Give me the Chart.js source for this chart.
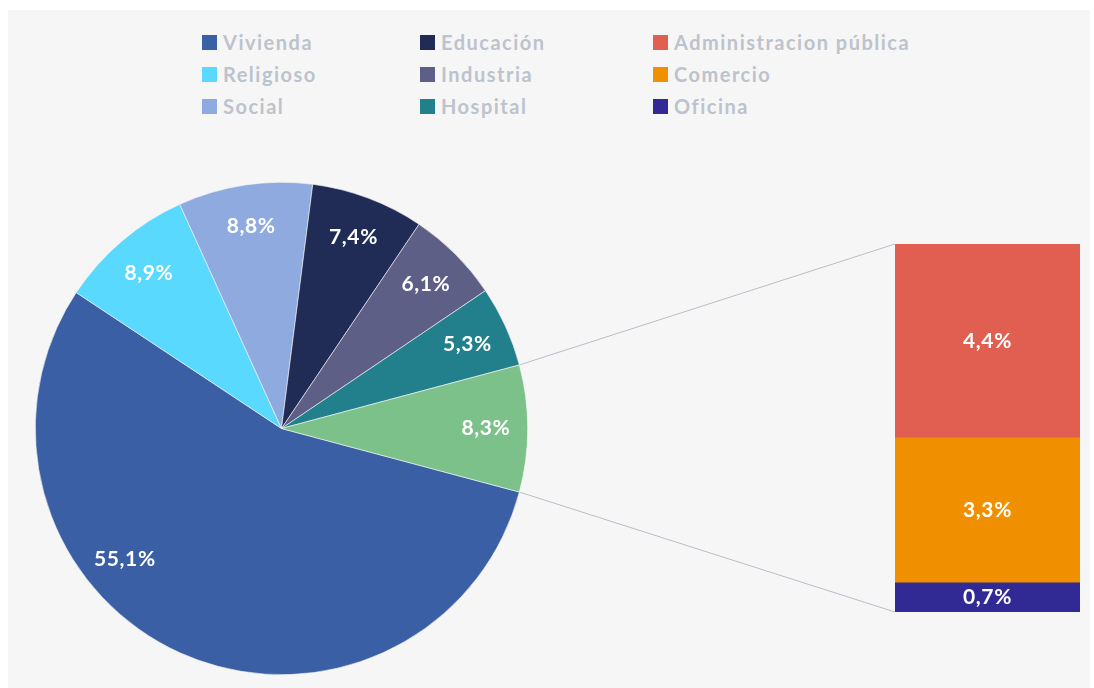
<!DOCTYPE html>
<html>
<head>
<meta charset="utf-8">
<script src="https://cdn.jsdelivr.net/npm/chart.js@4.4.1/dist/chart.umd.min.js"></script>
<style>
  body { margin: 0; background: #fff; font-family: Lato, "Open Sans", sans-serif; }
  #frame { position: absolute; left: 8px; top: 10px; width: 1082px; height: 678px; background: #f6f6f6; }
  #legend { position: absolute; left: 202px; top: 26px; display: grid;
            grid-template-columns: 218px 233px auto; grid-auto-rows: 32px; }
  .item { display: flex; align-items: center; font-size: 20px; font-weight: 700; color: #bcc3cd;
          white-space: nowrap; letter-spacing: 1.5px; }
  .box { width: 15px; height: 15px; margin-right: 6px; flex: none; }
  canvas { position: absolute; }
</style>
</head>
<body>
<div id="frame"></div>
<div id="legend"></div>
<canvas id="links" width="1094" height="688" style="left:0;top:0;width:1094px;height:688px"></canvas>
<div style="position:absolute;left:35px;top:182px;width:493px;height:493px"><canvas id="pieChart"></canvas></div>
<div style="position:absolute;left:895px;top:244px;width:185px;height:368px"><canvas id="barChart"></canvas></div>

<script>
  // pie part
  const pieLabels = ["Vivienda", "Religioso", "Social", "Educación", "Industria", "Hospital", "Otros"];
  const pieValues = [55.1, 8.9, 8.8, 7.4, 6.1, 5.3, 8.3];
  const pieColors = ["#3a5fa5", "#58d9fd", "#8eaadf", "#202c55", "#5d5f87", "#21808c", "#7cc08a"];
  // where along each slice the label sits (0..1)
  const pieLabelFrac = [0.63, 0.5, 0.5, 0.5, 0.5, 0.5, 0.5];

  // bar part (top to bottom)
  const barLabels = ["Administracion pública", "Comercio", "Oficina"];
  const barValues = [4.39, 3.29, 0.66];
  const barColors = ["#e05f50", "#f09000", "#312a95"];

  const legendOrder = [
    "Vivienda", "Educación", "Administracion pública",
    "Religioso", "Industria", "Comercio",
    "Social", "Hospital", "Oficina"
  ];

  const fmt = v => v.toFixed(1).replace(".", ",") + "%";
  const labelFont = "bold 21px Lato, 'Open Sans', sans-serif";

  // legend
  const legendEl = document.getElementById("legend");
  legendOrder.forEach(name => {
    let color = pieColors[pieLabels.indexOf(name)];
    if (pieLabels.indexOf(name) < 0) color = barColors[barLabels.indexOf(name)];
    legendEl.innerHTML += `<div class="item"><span class="box" style="background:${color}"></span>${name}</div>`;
  });

  const pieTotal = pieValues.reduce((s, v) => s + v, 0);
  const otherFrac = pieValues[pieValues.length - 1] / pieTotal;
  // centre the last slice on 3 o'clock
  const rotation = 90 + otherFrac * 180;

  function drawText(ctx, text, x, y) {
    ctx.save();
    ctx.font = labelFont;
    ctx.letterSpacing = "0.6px";
    ctx.fillStyle = "#fff";
    ctx.textAlign = "center";
    ctx.textBaseline = "middle";
    ctx.fillText(text, x, y);
    ctx.restore();
  }

  const pieLabelPlugin = {
    id: "pieLabels",
    afterDatasetsDraw(chart) {
      const arcs = chart.getDatasetMeta(0).data;
      arcs.forEach((arc, i) => {
        const a = arc.startAngle + (arc.endAngle - arc.startAngle) * pieLabelFrac[i];
        const r = arc.outerRadius * 0.83;
        drawText(chart.ctx, fmt(pieValues[i]), arc.x + r * Math.cos(a), arc.y + r * Math.sin(a));
      });
    }
  };

  const barLabelPlugin = {
    id: "barLabels",
    afterDatasetsDraw(chart) {
      chart.data.datasets.forEach((ds, i) => {
        const bar = chart.getDatasetMeta(i).data[0];
        drawText(chart.ctx, fmt(ds.data[0]), bar.x, (bar.y + bar.base) / 2);
      });
    }
  };

  const pieChart = new Chart(document.getElementById("pieChart"), {
    type: "pie",
    data: {
      labels: pieLabels,
      datasets: [{
        data: pieValues,
        backgroundColor: pieColors,
        borderColor: "#f6f6f6",
        borderWidth: 0.6
      }]
    },
    options: {
      responsive: true,
      maintainAspectRatio: false,
      animation: false,
      rotation: rotation,
      layout: { padding: 0 },
      plugins: { legend: { display: false }, tooltip: { enabled: false } }
    },
    plugins: [pieLabelPlugin]
  });

  // stacked from the bottom, so reverse
  const barSets = barValues.map((v, i) => ({
    label: barLabels[i],
    data: [v],
    backgroundColor: barColors[i],
    borderWidth: 0,
    barPercentage: 1,
    categoryPercentage: 1
  })).reverse();

  const barChart = new Chart(document.getElementById("barChart"), {
    type: "bar",
    data: { labels: ["Otros"], datasets: barSets },
    options: {
      responsive: true,
      maintainAspectRatio: false,
      animation: false,
      layout: { padding: 0 },
      scales: {
        x: { stacked: true, display: false },
        y: { stacked: true, display: false, min: 0, max: barValues.reduce((s, v) => s + v, 0) }
      },
      plugins: { legend: { display: false }, tooltip: { enabled: false } }
    },
    plugins: [barLabelPlugin]
  });

  // connector lines between the "Otros" slice and the bar
  function drawLinks() {
    const ctx = document.getElementById("links").getContext("2d");
    const pieBox = pieChart.canvas.getBoundingClientRect();
    const barBox = barChart.canvas.getBoundingClientRect();
    const arcs = pieChart.getDatasetMeta(0).data;
    const arc = arcs[arcs.length - 1];
    const topBar = barChart.getDatasetMeta(barSets.length - 1).data[0];
    const botBar = barChart.getDatasetMeta(0).data[0];

    const p1 = [pieBox.left + arc.x + arc.outerRadius * Math.cos(arc.startAngle),
                pieBox.top + arc.y + arc.outerRadius * Math.sin(arc.startAngle)];
    const p2 = [pieBox.left + arc.x + arc.outerRadius * Math.cos(arc.endAngle),
                pieBox.top + arc.y + arc.outerRadius * Math.sin(arc.endAngle)];
    const b1 = [barBox.left + topBar.x - topBar.width / 2, barBox.top + topBar.y];
    const b2 = [barBox.left + botBar.x - botBar.width / 2, barBox.top + botBar.base];

    ctx.strokeStyle = "#b7bdc8";
    ctx.lineWidth = 1;
    ctx.beginPath();
    ctx.moveTo(p1[0], p1[1]); ctx.lineTo(b1[0], b1[1]);
    ctx.moveTo(p2[0], p2[1]); ctx.lineTo(b2[0], b2[1]);
    ctx.stroke();
  }
  drawLinks();
</script>
</body>
</html>
